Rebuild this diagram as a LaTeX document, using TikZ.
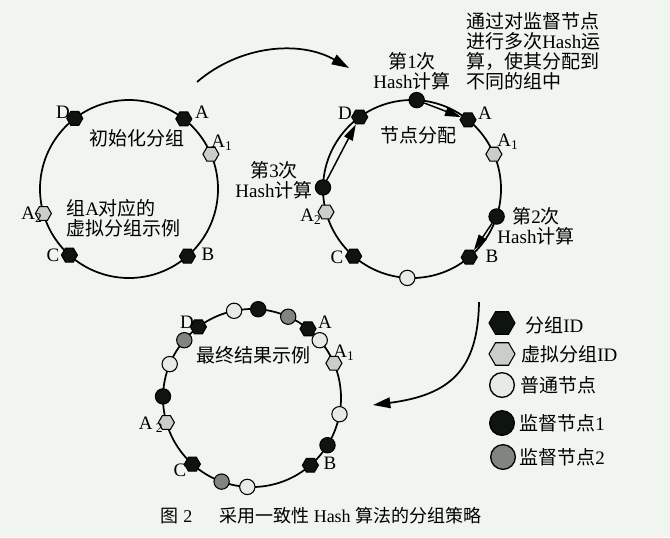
\documentclass[tikz,border=0pt]{standalone}
\usepackage{fontspec}
\setmainfont{Liberation Serif}
\newfontfamily\cjk{Noto Sans CJK SC}
\usetikzlibrary{arrows.meta,shapes.geometric}
\newcommand{\cn}[1]{{\cjk #1}}
\definecolor{bgcol}{RGB}{240,245,239}
\definecolor{grpcol}{RGB}{14,20,16}
\definecolor{vgrpcol}{RGB}{202,206,202}
\definecolor{nrmcol}{RGB}{230,235,230}
\definecolor{supgray}{RGB}{128,133,128}

\begin{document}
\begin{tikzpicture}[x=0.75pt,y=0.75pt,yscale=-1,xscale=1,
  ring/.style={line width=1.3pt},
  grp/.style={regular polygon,regular polygon sides=6,draw,line width=0.8pt,fill=grpcol,inner sep=0pt,minimum size=12pt},
  vgrp/.style={grp,fill=vgrpcol},
  nrm/.style={circle,draw,line width=0.8pt,fill=nrmcol,inner sep=0pt,minimum size=11.5pt},
  sup/.style={nrm,fill=grpcol},
  supb/.style={nrm,fill=supgray},
  txt/.style={inner sep=0.75pt,font=\fontsize{14.25pt}{15pt}\selectfont},
  arr/.style={line width=1.1pt,-{Triangle[length=12pt,width=7pt]}},
  bigarr/.style={line width=1.3pt,-{Triangle[length=13pt,width=8pt]}}]
\path[fill=bgcol] (0,0) rectangle (670,537);
\useasboundingbox (0,0) rectangle (670,537);

%Shape: Circle
\draw [ring] (129,189) circle [radius=89];
%Shape: Circle
\draw [ring] (412,189) circle [radius=89];
%Shape: Circle
\draw [ring] (252,398) circle [radius=89];

% ring 1
\node [grp] (d1) at (74.8,118.4) {};
\node [grp] (a1) at (183.8,118.9) {};
\node [vgrp] (aa1) at (210.9,154.2) {};
\node [vgrp] (ab1) at (43.4,213.5) {};
\node [grp] (c1) at (69.4,255.1) {};
\node [grp] (b1) at (187.4,256.2) {};

% ring 2
\node [sup] (s1) at (416.7,100.1) {};
\node [grp] (a2) at (468.0,119.8) {};
\node [vgrp] (aa2) at (493.9,154.2) {};
\node [grp] (d2) at (359.7,117.0) {};
\node [sup] (s3) at (323.0,187.4) {};
\node [vgrp] (ab2) at (326.0,212.0) {};
\node [grp] (c2) at (353.6,256.2) {};
\node [nrm] (w2) at (407.3,277.9) {};
\node [grp] (b2) at (469.2,257.2) {};
\node [sup] (s2) at (496.6,216.5) {};

% ring 3
\node [nrm] (w31) at (234.1,310.8) {};
\node [sup] (k31) at (258.2,309.2) {};
\node [supb] (g31) at (288.2,316.7) {};
\node [grp] (a3) at (308.0,328.8) {};
\node [nrm] (w32) at (319.7,340.2) {};
\node [vgrp] (aa3) at (333.9,363.2) {};
\node [nrm] (w33) at (339.5,414.2) {};
\node [sup] (k32) at (327.5,445.2) {};
\node [grp] (b3) at (310.4,465.2) {};
\node [nrm] (w34) at (247.3,486.9) {};
\node [supb] (g32) at (221.6,481.6) {};
\node [grp] (c3) at (192.4,464.1) {};
\node [vgrp] (ab3) at (166.4,422.5) {};
\node [sup] (k33) at (163.0,396.4) {};
\node [nrm] (w35) at (169.7,364.1) {};
\node [supb] (g33) at (184.3,340.2) {};
\node [grp] (d3) at (198.4,326.9) {};

% hash steps
\draw [arr] (s1) -- (a2);
\draw [arr] (s2) -- (b2);
\draw [arr] (s3) -- (d2);

% big arrows
\coordinate (p1) at (197,82);
\coordinate (q1) at (349,68);
\coordinate (p2) at (479,302);
\coordinate (q2) at (373,405);
\draw [bigarr] (p1) .. controls (240,45) and (300,40) .. (q1);
\draw [bigarr] (p2) .. controls (478,370) and (450,395) .. (q2);

% Text Node
\node [txt] (ld1) at (63,112) {D};
\node [txt] (la1) at (202,112) {A};
\node [txt] (laa1) at (222,143) {A\textsubscript{1}};
\node [txt] (lab1) at (32,215) {A\textsubscript{2}};
\node [txt] (lc1) at (53,255) {C};
\node [txt] (lb1) at (208,254) {B};
\node [txt] (t11) at (137,138) {\cn{初始化分组}};
\node [txt,anchor=west,align=left] (t12) at (65,218) {\cn{组}A\cn{对应的}\\\cn{虚拟分组示例}};

% Text Node
\node [txt] (ld2) at (345,113) {D};
\node [txt] (la2) at (485,113) {A};
\node [txt] (laa2) at (508,142) {A\textsubscript{1}};
\node [txt] (lab2) at (311,217) {A\textsubscript{2}};
\node [txt] (lc2) at (337,257) {C};
\node [txt] (lb2) at (492,256) {B};
\node [txt] (t21) at (418,135) {\cn{节点分配}};
\node [txt,align=center] (h1) at (412,71) {\cn{第}1\cn{次}\\Hash\cn{计算}};
\node [txt,align=center] (h3) at (274,180) {\cn{第}3\cn{次}\\Hash\cn{计算}};
\node [txt,align=center] (h2) at (536,226) {\cn{第}2\cn{次}\\Hash\cn{计算}};
\node [txt,anchor=west,align=left] (note) at (465,51) {\cn{通过对监督节点}\\\cn{进行多次}Hash\cn{运}\\\cn{算，使其分配到}\\\cn{不同的组中}};

% Text Node
\node [txt] (ld3) at (187,322) {D};
\node [txt] (la3) at (325,322) {A};
\node [txt] (laa3) at (344,353) {A\textsubscript{1}};
\node [txt] (lab3) at (151,425) {A\,\textsubscript{2}};
\node [txt] (lc3) at (180,470) {C};
\node [txt] (lb3) at (330,463) {B};
\node [txt] (t31) at (253,355) {\cn{最终结果示例}};

% legend
\node [grp,minimum size=19.5pt,line width=0.8pt] (kg) at (502,323) {};
\node [vgrp,minimum size=19.5pt,line width=0.8pt] (kv) at (502,354) {};
\node [nrm,minimum size=18.5pt,line width=1pt] (kn) at (502,385) {};
\node [sup,minimum size=18.5pt,line width=1pt] (ks1) at (502,423) {};
\node [supb,minimum size=18.5pt,line width=1pt] (ks2) at (503,457) {};
\node [txt,anchor=west] (lg1) at (524,325) {\cn{分组}ID};
\node [txt,anchor=west] (lg2) at (520,354) {\cn{虚拟分组}ID};
\node [txt,anchor=west] (lg3) at (519,385) {\cn{普通节点}};
\node [txt,anchor=west] (lg4) at (518,423) {\cn{监督节点}1};
\node [txt,anchor=west] (lg5) at (518,457) {\cn{监督节点}2};

% caption
\node [inner sep=0.75pt,font=\fontsize{13.5pt}{15pt}\selectfont] (cap) at (321,516) {\cn{图} 2\hspace{1.5em}\cn{采用一致性} Hash \cn{算法的分组策略}};

\end{tikzpicture}
\end{document}
